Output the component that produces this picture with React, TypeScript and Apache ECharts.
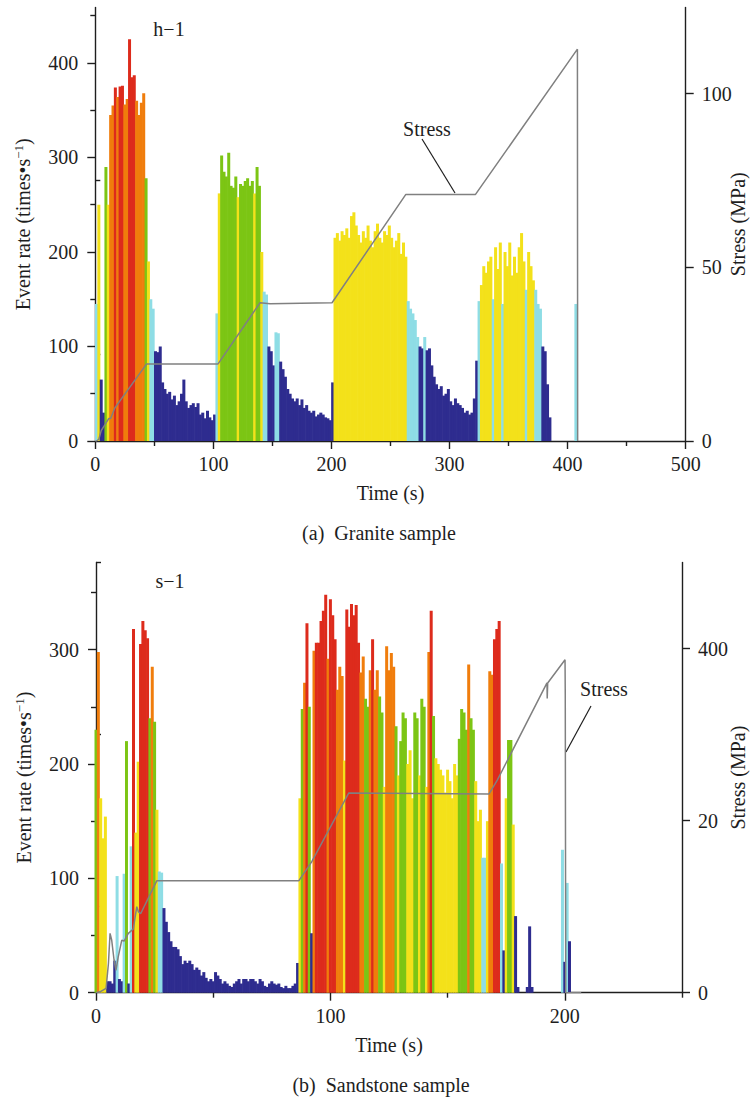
import React, { useEffect, useRef } from 'react';
import * as echarts from 'echarts';

const FONT = '"Liberation Serif", "DejaVu Serif", serif';
const INK = '#1e1e1e';

// ---------- (a) Granite sample ----------
const graniteStart = 1; // s, centre of first 2-s bin
const graniteStep = 2;
const graniteRate = [
  145, 250, 65, 30, 290, 250, 345, 355, 374, 364,
  375, 376, 356, 362, 425, 385, 387, 360, 345, 358,
  368, 278, 190, 150, 140, 95, 94, 100, 62, 55,
  50, 52, 44, 48, 38, 42, 50, 65, 42, 35,
  38, 40, 36, 40, 28, 30, 24, 32, 25, 22,
  28, 135, 262, 302, 285, 280, 305, 270, 268, 280,
  258, 272, 270, 275, 278, 270, 275, 262, 290, 270,
  200, 158, 155, 100, 95, 80, 115, 114, 84, 76,
  68, 55, 50, 45, 42, 45, 38, 44, 35, 38,
  32, 30, 32, 26, 28, 30, 28, 25, 24, 22,
  62, 215, 220, 212, 222, 218, 225, 215, 238, 242,
  228, 218, 210, 222, 215, 228, 212, 205, 222, 230,
  215, 210, 222, 218, 228, 215, 205, 212, 220, 198,
  210, 195, 148, 140, 135, 128, 110, 100, 98, 110,
  96, 98, 80, 68, 60, 55, 58, 48, 50, 55,
  42, 38, 45, 40, 38, 35, 30, 32, 28, 30,
  45, 85, 148, 165, 185, 178, 190, 195, 150, 205,
  182, 210, 145, 200, 185, 210, 175, 195, 178, 205,
  220, 190, 160, 200, 185, 170, 160, 145, 140, 100,
  95, 60, 25, 0, 0, 0, 0, 0, 0, 0,
  0, 0, 0, 145, 0,
];
const graniteStress: [number, number][] = [
  [0, 0], [1, 0], [3, 0.5], [5, 3], [11.5, 6.5], [13, 6.5], [16.5, 9.5],
  [43.5, 22.2], [104, 22.2], [139.5, 39.8], [148, 39.5], [200.5, 39.8],
  [263, 71], [322, 71], [408.3, 112.8], [408.5, 0],
];
const graniteTimeTicks = [0, 100, 200, 300, 400, 500];
const graniteTimeMinor = [50, 150, 250, 350, 450];
const graniteRateTicks = [0, 100, 200, 300, 400];
const graniteRateMinor = [50, 150, 250, 350, 450];
const graniteStressTicks = [0, 50, 100];
const graniteStressMinor = [25, 75, 125];
const granitePieces = [
  { lt: 103, color: '#2e2c8f' },
  { gte: 103, lt: 165, color: '#8edde5' },
  { gte: 165, lt: 265, color: '#f3e11a' },
  { gte: 265, lt: 320, color: '#7cc514' },
  { gte: 320, lt: 372, color: '#f07d0c' },
  { gte: 372, color: '#dd2b1c' },
];

// ---------- (b) Sandstone sample ----------
const sandstoneStart = 0;
const sandstoneStep = 1;
const sandstoneRate = [
  230, 298, 170, 135, 154, 10, 10, 8, 28, 102,
  12, 10, 104, 220, 8, 128, 318, 140, 202, 305,
  325, 317, 310, 240, 285, 237, 160, 106, 105, 74,
  62, 53, 45, 40, 40, 38, 32, 25, 28, 26,
  28, 25, 20, 22, 20, 15, 18, 13, 10, 12,
  10, 18, 15, 12, 8, 10, 8, 6, 5, 8,
  10, 12, 8, 12, 12, 10, 12, 12, 10, 8,
  12, 10, 6, 5, 8, 10, 8, 7, 8, 5,
  4, 6, 4, 4, 6, 8, 26, 170, 248, 271,
  323, 250, 52, 299, 306, 306, 325, 334, 348, 292,
  344, 330, 309, 265, 285, 277, 203, 335, 320, 340,
  330, 339, 306, 280, 294, 257, 250, 282, 309, 265,
  282, 259, 245, 180, 303, 282, 297, 285, 233, 190,
  220, 245, 240, 200, 212, 170, 245, 240, 190, 257,
  250, 180, 298, 334, 242, 205, 200, 195, 190, 175,
  195, 185, 170, 200, 190, 222, 248, 245, 230, 287,
  240, 230, 185, 150, 160, 118, 118, 150, 281, 278,
  309, 318, 325, 113, 37, 170, 221, 221, 147, 67,
  5, 0, 0, 0, 5, 58, 5, 0, 0, 0,
  0, 0, 0, 0, 0, 0, 0, 0, 0, 125,
  27, 96, 45, 0, 0, 0,
];
const sandstoneStress: [number, number][] = [
  [0, 0], [1.7, 0.1], [4.3, 0.5], [5.3, 3.4], [6, 6.9], [6.7, 6.1], [7.7, 3.8],
  [8.5, 2.6], [9.5, 4.2], [11, 6.1], [12, 6.0], [13.8, 6.9], [15.9, 7.4],
  [17.4, 10], [18.1, 9.4], [19.1, 9.2], [25.9, 13.0], [86.5, 13.0], [92, 15.2],
  [107.8, 23.2], [167.7, 23.1], [171.2, 24.7], [192.4, 36.0], [192.5, 34.2],
  [192.7, 36.0], [200.1, 38.7], [200.2, 34.5], [200.4, 0], [207, 0],
];
const sandstoneTimeTicks = [0, 100, 200];
const sandstoneTimeMinor = [50, 150, 250];
const sandstoneRateTicks = [0, 100, 200, 300];
const sandstoneRateMinor = [50, 150, 250, 350];
const sandstoneStressTicks = [0, 20, 40];
const sandstoneStressLabels = ['0', '20', '400'];
const sandstoneStressMinor = [10, 30, 50];
const sandstonePieces = [
  { lt: 80, color: '#2e2c8f' },
  { gte: 80, lt: 135, color: '#8edde5' },
  { gte: 135, lt: 215, color: '#f3e11a' },
  { gte: 215, lt: 262, color: '#7cc514' },
  { gte: 262, lt: 305, color: '#f07d0c' },
  { gte: 305, color: '#dd2b1c' },
];

const textStyle = { fontSize: 20, fontFamily: FONT, color: INK };

function mainAxis(o: any) {
  return {
    type: 'value',
    gridIndex: o.grid,
    position: o.position,
    min: o.min,
    max: o.max,
    axisLine: { show: true, onZero: false, lineStyle: { color: INK, width: 1.4 } },
    axisTick: { show: true, inside: false, length: 8, customValues: o.ticks, lineStyle: { color: INK, width: 1.4 } },
    axisLabel: {
      show: true,
      customValues: o.ticks,
      margin: o.margin,
      ...textStyle,
      formatter: o.formatter || ((v: number) => String(v)),
    },
    splitLine: { show: false },
    minorTick: { show: false },
    name: o.name,
    nameLocation: 'middle',
    nameGap: o.nameGap,
    nameRotate: o.nameRotate,
    nameMoveOverlap: false,
    nameTextStyle: {
      ...textStyle,
      rich: {
        sup: { fontSize: 13, fontFamily: FONT, color: INK, verticalAlign: 'top', lineHeight: 22 },
      },
    },
  };
}
function minorAxis(o: any) {
  return {
    type: 'value',
    gridIndex: o.grid,
    position: o.position,
    min: o.min,
    max: o.max,
    axisLine: { show: false },
    axisTick: { show: true, inside: false, length: 5, customValues: o.ticks, lineStyle: { color: INK, width: 1.4 } },
    axisLabel: { show: false },
    splitLine: { show: false },
  };
}

export default function App() {
  const ref = useRef<HTMLDivElement>(null);
  useEffect(() => {
    if (!ref.current) return;
    const chart = echarts.init(ref.current, undefined, { renderer: 'svg' });
    const gBars = graniteRate
      .map((v, i) => [graniteStart + i * graniteStep, v])
      .filter((d) => d[1] > 0);
    const sBars = sandstoneRate
      .map((v, i) => [sandstoneStart + i * sandstoneStep, v])
      .filter((d) => d[1] > 0);

    const gMaxRate = 458.7;
    const gMaxStress = 124.8;
    const sMaxRate = 376.2;
    const sMaxStress = 50;

    chart.setOption({
      animation: false,
      textStyle: { fontFamily: FONT },
      grid: [
        { left: 95.3, top: 7.5, width: 590.4, height: 433.5, containLabel: false, outerBoundsMode: 'none' },
        { left: 96, top: 562.5, width: 586, height: 430.2, containLabel: false, outerBoundsMode: 'none' },
      ],
      xAxis: [
        mainAxis({ grid: 0, position: 'bottom', min: 0, max: 500, ticks: graniteTimeTicks, margin: 13, name: 'Time (s)', nameGap: 42 }),
        minorAxis({ grid: 0, position: 'bottom', min: 0, max: 500, ticks: graniteTimeMinor }),
        mainAxis({ grid: 1, position: 'bottom', min: 0, max: 250, ticks: sandstoneTimeTicks, margin: 13, name: 'Time (s)', nameGap: 42 }),
        minorAxis({ grid: 1, position: 'bottom', min: 0, max: 250, ticks: sandstoneTimeMinor }),
      ],
      yAxis: [
        mainAxis({ grid: 0, position: 'left', min: 0, max: gMaxRate, ticks: graniteRateTicks, margin: 17, name: 'Event rate (times•s{sup|−1})', nameGap: 61, nameRotate: 90 }),
        minorAxis({ grid: 0, position: 'left', min: 0, max: gMaxRate, ticks: graniteRateMinor }),
        mainAxis({ grid: 0, position: 'right', min: 0, max: gMaxStress, ticks: graniteStressTicks, margin: 16, name: 'Stress (MPa)', nameGap: 42, nameRotate: 90 }),
        minorAxis({ grid: 0, position: 'right', min: 0, max: gMaxStress, ticks: graniteStressMinor }),
        mainAxis({ grid: 1, position: 'left', min: 0, max: sMaxRate, ticks: sandstoneRateTicks, margin: 17, name: 'Event rate (times•s{sup|−1})', nameGap: 61, nameRotate: 90 }),
        minorAxis({ grid: 1, position: 'left', min: 0, max: sMaxRate, ticks: sandstoneRateMinor }),
        mainAxis({
          grid: 1, position: 'right', min: 0, max: sMaxStress, ticks: sandstoneStressTicks, margin: 16,
          name: 'Stress (MPa)', nameGap: 46, nameRotate: 90,
          formatter: (v: number) => sandstoneStressLabels[sandstoneStressTicks.indexOf(v)] ?? String(v),
        }),
        minorAxis({ grid: 1, position: 'right', min: 0, max: sMaxStress, ticks: sandstoneStressMinor }),
      ],
      visualMap: [
        { type: 'piecewise', show: false, seriesIndex: 0, dimension: 1, pieces: granitePieces },
        { type: 'piecewise', show: false, seriesIndex: 2, dimension: 1, pieces: sandstonePieces },
      ],
      series: [
        { type: 'bar', xAxisIndex: 0, yAxisIndex: 0, data: gBars, barWidth: 3, silent: true },
        {
          type: 'line', xAxisIndex: 0, yAxisIndex: 2, data: graniteStress, symbol: 'none',
          lineStyle: { color: '#808080', width: 1.5 }, itemStyle: { color: '#808080' }, silent: true,
        },
        { type: 'bar', xAxisIndex: 2, yAxisIndex: 4, data: sBars, barWidth: 3, silent: true },
        {
          type: 'line', xAxisIndex: 2, yAxisIndex: 6, data: sandstoneStress, symbol: 'none',
          lineStyle: { color: '#808080', width: 1.5 }, itemStyle: { color: '#808080' }, silent: true,
        },
      ],
      graphic: [
        { type: 'text', x: 169, y: 29, style: { text: 'h−1', font: `20px ${FONT}`, fill: INK, textAlign: 'center', textVerticalAlign: 'middle' } },
        { type: 'text', x: 170, y: 581, style: { text: 's−1', font: `20px ${FONT}`, fill: INK, textAlign: 'center', textVerticalAlign: 'middle' } },
        { type: 'text', x: 427, y: 129, style: { text: 'Stress', font: `20px ${FONT}`, fill: INK, textAlign: 'center', textVerticalAlign: 'middle' } },
        { type: 'line', shape: { x1: 422, y1: 139, x2: 455, y2: 193 }, style: { stroke: INK, lineWidth: 1.2 } },
        { type: 'text', x: 604, y: 689, style: { text: 'Stress', font: `20px ${FONT}`, fill: INK, textAlign: 'center', textVerticalAlign: 'middle' } },
        { type: 'line', shape: { x1: 591, y1: 706, x2: 566, y2: 752 }, style: { stroke: INK, lineWidth: 1.2 } },
        { type: 'text', x: 379, y: 533, style: { text: '(a)  Granite sample', font: `20px ${FONT}`, fill: INK, textAlign: 'center', textVerticalAlign: 'middle' } },
        { type: 'text', x: 381, y: 1085, style: { text: '(b)  Sandstone sample', font: `20px ${FONT}`, fill: INK, textAlign: 'center', textVerticalAlign: 'middle' } },
      ],
    });
    return () => chart.dispose();
  }, []);
  return (
    <div
      ref={ref}
      style={{ position: 'absolute', left: 0, top: 0, width: 753, height: 1098, background: '#fff' }}
    />
  );
}
